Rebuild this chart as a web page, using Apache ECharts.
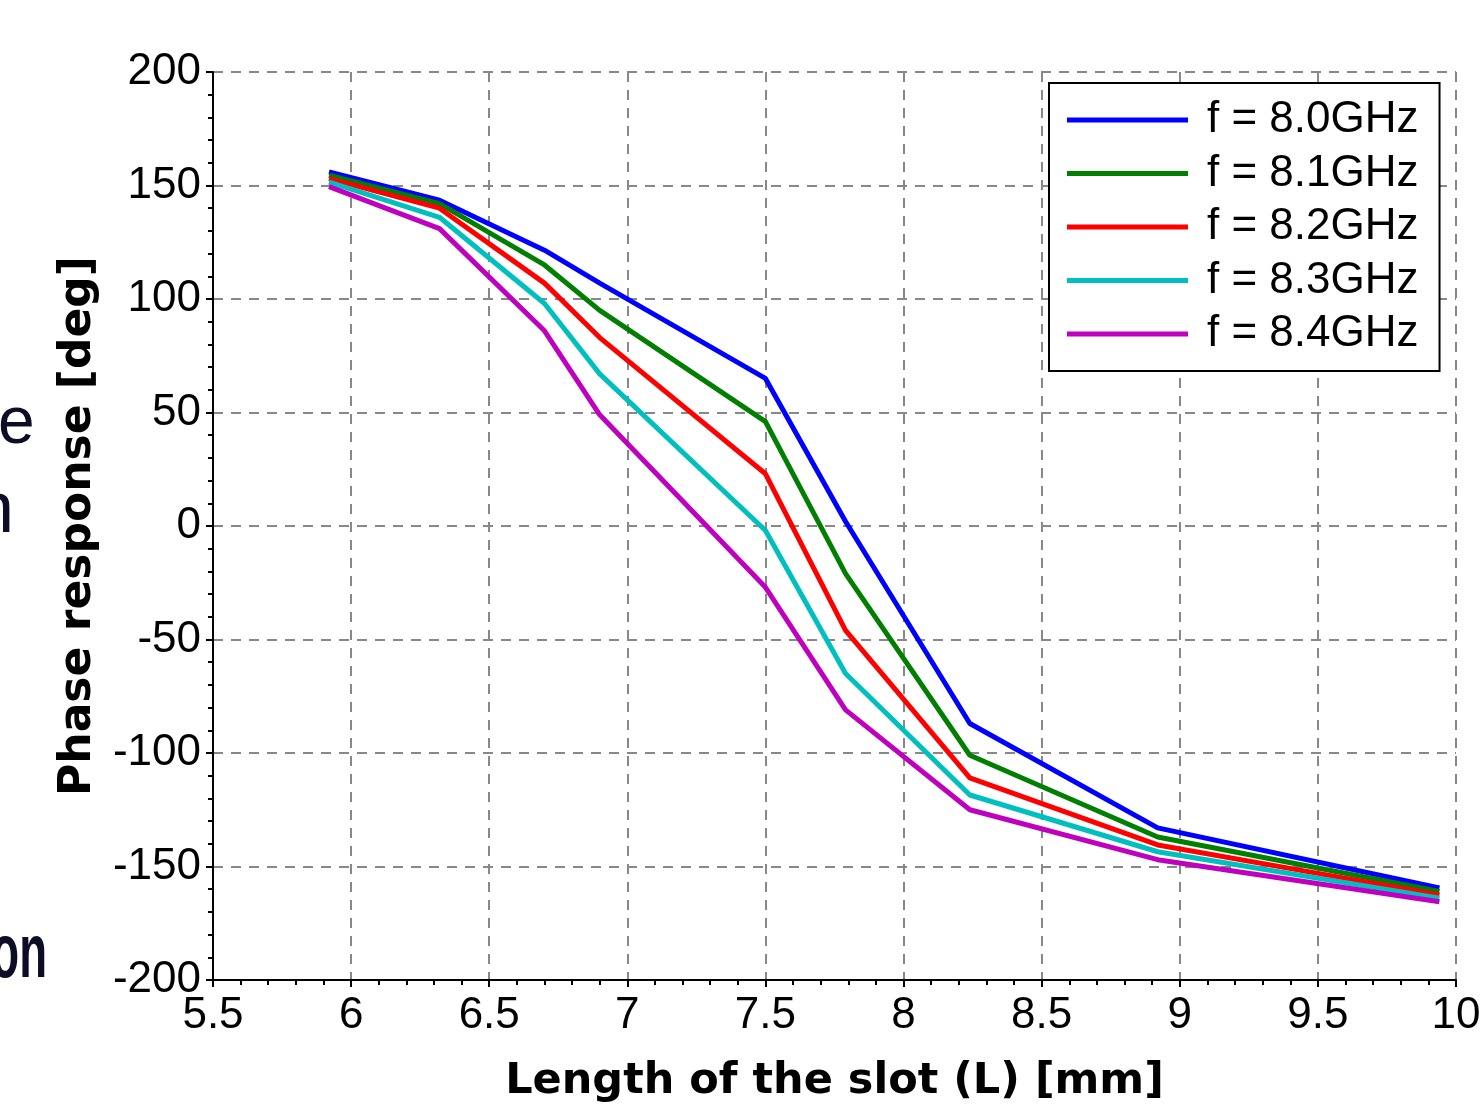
<!DOCTYPE html>
<html>
<head>
<meta charset="utf-8">
<script src="https://cdn.jsdelivr.net/npm/echarts@6/dist/echarts.min.js"></script>
<style>
html,body{margin:0;padding:0;background:#fff;}
#chart{width:1482px;height:1106px;}
</style>
</head>
<body>
<div id="chart"></div>
<script>
// Slot length [mm]
var slotLength = [5.92, 6.32, 6.70, 6.90, 7.50, 7.79, 8.24, 8.92, 9.94];
// Phase response [deg] per frequency
var phase80 = [156, 143.5, 121.5, 107, 65, 2, -87, -133, -159.5];
var phase81 = [154.5, 142, 115, 95, 46, -21, -101, -137, -161];
var phase82 = [153, 140, 107, 83, 23, -46, -111, -140.5, -162.5];
var phase83 = [151.5, 136, 98, 67, -2, -65, -118.5, -143.5, -164];
var phase84 = [149.5, 131, 86, 49, -27, -81, -125, -147, -165.5];
var seriesNames = ['f = 8.0GHz', 'f = 8.1GHz', 'f = 8.2GHz', 'f = 8.3GHz', 'f = 8.4GHz'];
var seriesData = [phase80, phase81, phase82, phase83, phase84];
var seriesColors = ['#0000ff', '#007f00', '#ff0000', '#00bfbf', '#bf00bf'];

var FONT = '"Liberation Sans", Arial, sans-serif';
var TITLE_FONT = '"DejaVu Sans", sans-serif';

function pairs(xs, ys) {
  return xs.map(function (x, i) { return [x, ys[i]]; });
}

var chart = echarts.init(document.getElementById('chart'), null, {renderer: 'canvas'});

var gridLine = {show: true, lineStyle: {color: '#888', width: 2, type: [10, 8]}};

var option = {
  animation: false,
  backgroundColor: '#fff',
  grid: {left: 213, right: 26, top: 72, bottom: 126, containLabel: false, outerBoundsMode: 'none'},
  xAxis: {
    type: 'value', min: 5.5, max: 10, interval: 0.5,
    name: 'Length of the slot (L) [mm]', nameLocation: 'middle', nameGap: 80,
    nameTextStyle: {fontFamily: TITLE_FONT, fontWeight: 'bold', fontSize: 43, color: '#000'},
    axisLine: {show: true, onZero: false, lineStyle: {color: '#000', width: 2}},
    axisTick: {show: true, inside: false, length: 7, lineStyle: {color: '#000', width: 2}},
    minorTick: {show: true, splitNumber: 5, length: 5, lineStyle: {color: '#000', width: 2}},
    axisLabel: {fontFamily: FONT, fontSize: 44, color: '#000', margin: 14,
      formatter: function (v) { return String(v); }},
    splitLine: gridLine
  },
  yAxis: {
    type: 'value', min: -200, max: 200, interval: 50,
    name: 'Phase response [deg]', nameLocation: 'middle', nameGap: 112, nameRotate: 90,
    nameTextStyle: {fontFamily: TITLE_FONT, fontWeight: 'bold', fontSize: 44, color: '#000'},
    axisLine: {show: true, onZero: false, lineStyle: {color: '#000', width: 2}},
    axisTick: {show: true, inside: false, length: 7, lineStyle: {color: '#000', width: 2}},
    minorTick: {show: true, splitNumber: 5, length: 5, lineStyle: {color: '#000', width: 2}},
    axisLabel: {fontFamily: FONT, fontSize: 44, color: '#000', margin: 12},
    splitLine: gridLine
  },
  legend: {
    orient: 'vertical', left: 1049, top: 83,
    padding: [15, 21, 15, 18],
    itemGap: 9.5, itemWidth: 121, itemHeight: 5, icon: 'rect',
    borderColor: '#000', borderWidth: 2, backgroundColor: '#fff',
    textStyle: {fontFamily: FONT, fontSize: 44, color: '#000', lineHeight: 44, padding: [0, 0, 0, 14]},
    data: seriesNames
  },
  series: seriesNames.map(function (name, i) {
    return {
      name: name, type: 'line', showSymbol: false, symbol: 'none',
      data: pairs(slotLength, seriesData[i]),
      lineStyle: {color: seriesColors[i], width: 5},
      itemStyle: {color: seriesColors[i]}
    };
  }),
  graphic: [
    {type: 'text', x: -2, y: 425, style: {text: 'e', font: '66px "Liberation Sans", Arial, sans-serif', fill: '#0d0d26', textVerticalAlign: 'middle', verticalAlign: 'middle'}},
    {type: 'text', x: -26, y: 512, style: {text: 'n', font: '72px "Liberation Sans", Arial, sans-serif', fill: '#0d0d26', textVerticalAlign: 'middle', verticalAlign: 'middle'}},
    {type: 'text', x: 47, y: 956, scaleX: 0.6, style: {text: 'on', font: 'bold 76px "Liberation Sans", Arial, sans-serif', fill: '#0d0d26', align: 'right', textAlign: 'right', textVerticalAlign: 'middle', verticalAlign: 'middle'}}
  ]
};
chart.setOption(option);
</script>
</body>
</html>
